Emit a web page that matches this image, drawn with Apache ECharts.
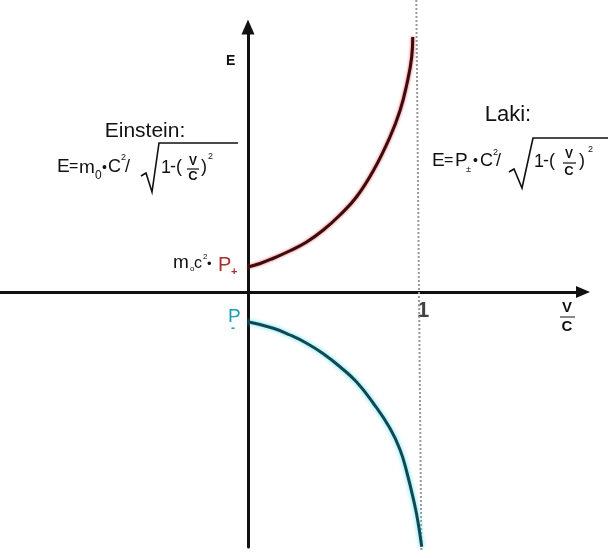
<!DOCTYPE html>
<html>
<head>
<meta charset="utf-8">
<script src="https://cdn.jsdelivr.net/npm/echarts@6/dist/echarts.min.js"></script>
<style>
html, body { margin: 0; background: #fff; }
#main { width: 608px; height: 558px; }
</style>
</head>
<body>
<div id="main"></div>
<script>
// axis extents (v/c horizontally, E vertically, E in units of m0c^2)
var vRange = [-1.4588, 1.9706];
var eRange = [-10.2, 10.6];
var tickValues = [1];
var tickLabels = ['1'];

// P+ branch (Einstein)
var redV = [0, 0.071, 0.149, 0.247, 0.345, 0.443, 0.541, 0.639, 0.737, 0.835, 0.894, 0.934, 0.963, 0.969];
var redE = [1.0, 1.14, 1.35, 1.65, 2.0, 2.48, 3.08, 3.81, 4.85, 6.2, 7.25, 8.3, 9.4, 10.2];

// P- branch
var blueV = [0, 0.149, 0.247, 0.345, 0.443, 0.541, 0.639, 0.737, 0.835, 0.894, 0.934, 0.98, 1.0, 1.022];
var blueE = [-1.19, -1.45, -1.72, -2.05, -2.47, -2.99, -3.6, -4.45, -5.45, -6.3, -7.2, -8.5, -9.2, -10.19];

// dotted limit v = c
var limitV = [0.99, 1.02];
var limitE = [11.68, -10.4];

function zip(a, b) {
    return a.map(function(x, i) { return [x, b[i]]; });
}

var FONT = '"Liberation Sans", Arial, sans-serif';
var INK = '#111';
var RED = '#a8302a';
var TEAL = '#1b9fb0';

// text piece helper
function t(x, y, text, size, opt) {
    opt = opt || {};
    return {
        type: 'text', x: x, y: y, silent: true,
        style: {
            text: text,
            fontSize: size,
            fontFamily: FONT,
            fontWeight: opt.bold ? 'bold' : 'normal',
            fill: opt.color || INK,
            align: opt.align || 'left',
            verticalAlign: 'middle'
        }
    };
}
function pl(points, w, color) {
    return {
        type: 'polyline', silent: true,
        shape: { points: points },
        style: { stroke: color || INK, lineWidth: w || 1.6, fill: null }
    };
}

var graphics = [
    // axis name E
    t(226, 61, 'E', 14, { bold: true }),

    // Einstein formula
    t(145, 131, 'Einstein:', 21, { align: 'center' }),
    t(57, 167, 'E', 19),
    t(69, 167, '=', 16),
    t(79, 168, 'm', 19),
    t(95, 176, '0', 12),
    t(102, 168, '\u2022', 14),
    t(108, 167, 'C', 18),
    t(121, 158, '2', 9),
    t(125, 167, '/', 18),
    pl([[141, 176], [146, 173], [152, 192], [159, 143], [238, 143]], 1.6),
    t(161, 168, '1', 18),
    t(170, 167, '-(', 18),
    t(193, 162, 'V', 12, { bold: true, align: 'center' }),
    pl([[187, 169], [199, 169]], 1.2),
    t(193, 176, 'C', 13, { bold: true, align: 'center' }),
    t(201, 167, ')', 18),
    t(208, 157, '2', 9),

    // Laki formula
    t(508, 115, 'Laki:', 22, { align: 'center' }),
    t(432, 161, 'E', 19),
    t(444, 161, '=', 16),
    t(455, 161, 'P', 19),
    t(466, 170, '\u00b1', 9),
    t(473, 161, '\u2022', 14),
    t(480, 161, 'C', 18),
    t(493, 153, '2', 9),
    t(496, 161, '/', 18),
    pl([[509, 172], [514, 169], [522, 188], [533, 138], [608, 138]], 1.6),
    t(534, 162, '1', 18),
    t(543, 161, '-(', 18),
    t(569, 155, 'V', 12, { bold: true, align: 'center' }),
    pl([[563, 163], [576, 163]], 1.2),
    t(569, 171, 'C', 13, { bold: true, align: 'center' }),
    t(579, 161, ')', 18),
    t(588, 150, '2', 9),

    // m0c2 = P+
    t(173, 263, 'm', 19),
    t(190, 269, 'o', 8),
    t(194, 264, 'c', 16),
    t(203, 257, '2', 8),
    t(207, 264, '\u2022', 13),
    t(218, 265, 'P', 20, { color: RED }),
    t(231, 272, '+', 11, { color: RED, bold: true }),

    // P-
    t(228, 317, 'P', 19, { color: TEAL }),
    t(231, 329, '-', 12, { color: TEAL, bold: true }),

    // x axis name v/c
    t(567, 308, 'V', 15, { bold: true, align: 'center' }),
    pl([[560, 317], [575, 317]], 1.4, '#555'),
    t(567, 327, 'C', 15, { bold: true, align: 'center' })
];

var myChart = echarts.init(document.getElementById('main'));
myChart.setOption({
    animation: false,
    backgroundColor: '#fff',
    grid: { left: 0, right: 25, top: 27, bottom: 11, containLabel: false, outerBoundsMode: 'none' },
    xAxis: {
        type: 'value',
        min: vRange[0],
        max: vRange[1],
        splitLine: { show: false },
        axisTick: { show: false },
        axisLabel: { show: false },
        axisLine: {
            onZero: true,
            symbol: ['none', 'triangle'],
            symbolSize: [12, 14],
            lineStyle: { color: '#111', width: 3 }
        }
    },
    yAxis: {
        type: 'value',
        min: eRange[0],
        max: eRange[1],
        splitLine: { show: false },
        axisTick: { show: false },
        axisLabel: { show: false },
        axisLine: {
            onZero: true,
            symbol: ['none', 'triangle'],
            symbolSize: [13, 15],
            lineStyle: { color: '#111', width: 3 }
        }
    },
    series: [{
        name: 'limit',
        type: 'line',
        clip: false,
        silent: true,
        showSymbol: false,
        data: zip(limitV, limitE),
        lineStyle: { color: '#9a9a9a', width: 2, type: 'dotted' }
    }, {
        name: 'tick',
        type: 'scatter',
        silent: true,
        symbolSize: 0,
        data: tickValues.map(function(v) { return [v, 0]; }),
        label: {
            show: true,
            position: 'bottom',
            distance: 8,
            offset: [5, 0],
            color: '#111',
            fontSize: 22,
            fontWeight: 'bold',
            fontFamily: FONT,
            formatter: function(p) { return tickLabels[p.dataIndex]; }
        }
    }, {
        name: 'P+',
        type: 'line',
        smooth: 0.45,
        showSymbol: false,
        data: zip(redV, redE),
        lineStyle: {
            color: '#3a0c0e', width: 3,
            shadowColor: 'rgba(225,50,50,0.85)', shadowBlur: 3
        }
    }, {
        name: 'P-',
        type: 'line',
        smooth: 0.45,
        showSymbol: false,
        data: zip(blueV, blueE),
        lineStyle: {
            color: '#0f4a52', width: 3,
            shadowColor: 'rgba(70,215,240,0.9)', shadowBlur: 4
        }
    }],
    graphic: graphics
});
</script>
</body>
</html>
